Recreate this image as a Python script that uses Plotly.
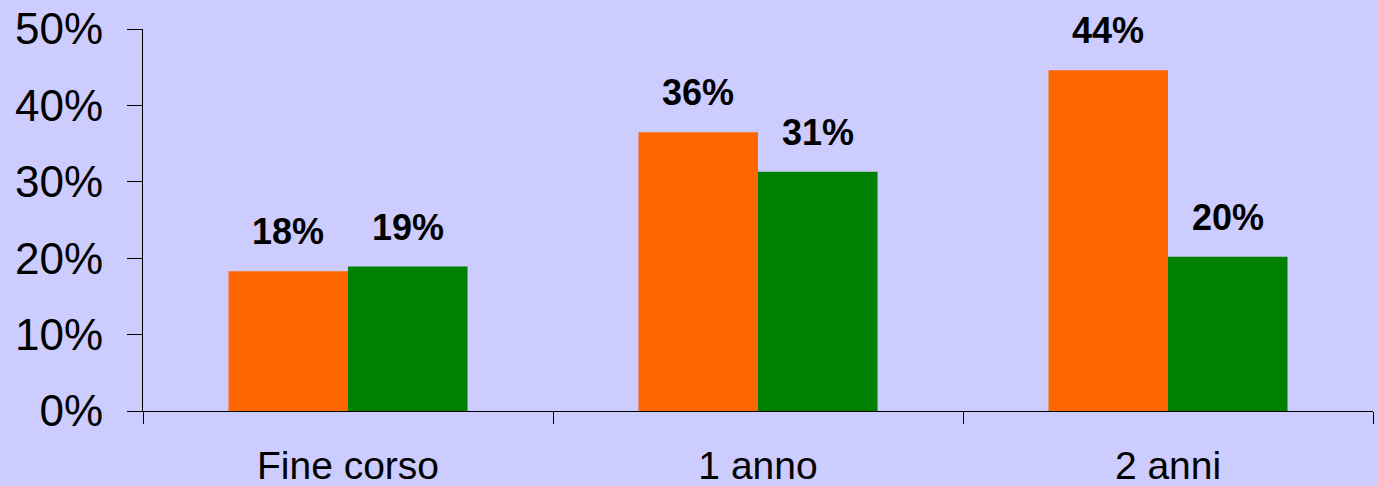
import plotly.graph_objects as go

categories = ["Fine corso", "1 anno", "2 anni"]
orange_values = [18.3, 36.5, 44.6]
green_values = [18.9, 31.3, 20.2]
orange_labels = ["18%", "36%", "44%"]
green_labels = ["19%", "31%", "20%"]
y_ticks = [0, 10, 20, 30, 40, 50]
y_tick_text = ["0%", "10%", "20%", "30%", "40%", "50%"]

ORANGE = "#FF6600"
GREEN = "#008000"
BG = "#CCCCFF"

fig = go.Figure()
fig.add_trace(go.Bar(x=categories, y=orange_values, marker=dict(color=ORANGE, line=dict(width=0)), name="A"))
fig.add_trace(go.Bar(x=categories, y=green_values, marker=dict(color=GREEN, line=dict(width=0)), name="B"))

W_total = 1230
cat_px = W_total / 3
bargap = 0.417
bar_px = cat_px * (1 - bargap) / 2

annotations = []
for cat, v, lab in zip(categories, orange_values, orange_labels):
    annotations.append(dict(x=cat, y=v, text=lab, showarrow=False, xshift=-bar_px / 2,
                            yanchor="bottom", yshift=17,
                            font=dict(family="Arial, Liberation Sans", size=36, color="black", weight="bold")))
for cat, v, lab in zip(categories, green_values, green_labels):
    annotations.append(dict(x=cat, y=v, text=lab, showarrow=False, xshift=bar_px / 2,
                            yanchor="bottom", yshift=17,
                            font=dict(family="Arial, Liberation Sans", size=36, color="black", weight="bold")))

fig.update_layout(
    width=1378, height=486,
    margin=dict(l=143, r=5, t=29, b=74.5),
    paper_bgcolor=BG, plot_bgcolor=BG,
    barmode="group", bargap=bargap, bargroupgap=0,
    showlegend=False,
    font=dict(family="Arial, Liberation Sans", color="black"),
    annotations=annotations,
)
fig.update_xaxes(
    type="category", range=[-0.5, 2.5], automargin=False,
    showline=True, linecolor="black", linewidth=1,
    ticks="outside", tickson="boundaries", ticklen=12, tickcolor="black", tickwidth=1,
    showgrid=False, zeroline=False,
    tickfont=dict(size=39, color="black"),
    ticklabelstandoff=20,
)
fig.update_yaxes(
    range=[0, 50], tickvals=y_ticks, ticktext=y_tick_text, automargin=False,
    showline=True, linecolor="black", linewidth=1,
    ticks="outside", ticklen=15, tickcolor="black", tickwidth=1,
    showgrid=False, zeroline=False,
    tickfont=dict(size=44, color="black"),
    ticklabelstandoff=15,
)

fig.write_html(
    "out.html",
    config={"displayModeBar": False},
    post_script="document.body.style.margin='0';document.body.style.padding='0';document.body.style.overflow='hidden';",
)
